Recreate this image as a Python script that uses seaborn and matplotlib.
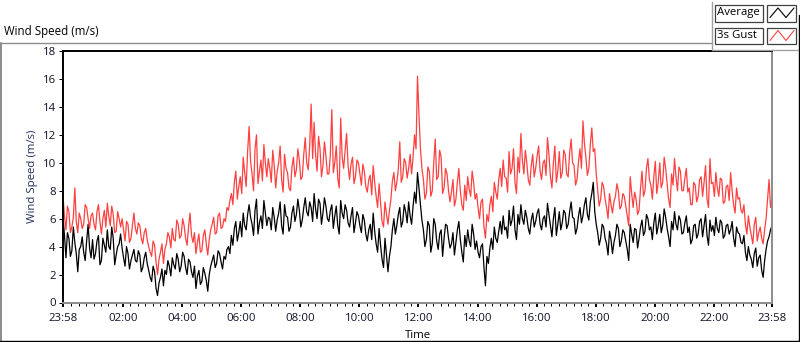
import numpy as np
import pandas as pd
import matplotlib
matplotlib.use("Agg")
import matplotlib.pyplot as plt
from matplotlib.lines import Line2D
from matplotlib.patches import Rectangle
import seaborn as sns

# ---------------- data (3-minute samples starting 23:58) -------------
average = [
    6.1, 4.8, 3.2, 5.0, 4.6, 3.3, 3.7, 5.4, 4.3, 3.5, 2.2, 3.8, 4.0, 4.7, 3.6, 3.0, 4.4, 5.6, 3.9, 3.2,
    4.5, 3.1, 3.5, 4.4, 4.8, 2.7, 3.0, 4.6, 4.1, 3.6, 5.2, 4.0, 3.8, 5.4, 4.6, 2.7, 3.4, 4.0, 4.2, 4.9,
    3.9, 3.2, 2.6, 4.0, 3.5, 2.4, 3.0, 3.4, 3.8, 3.0, 2.9, 3.7, 3.4, 2.2, 2.5, 3.2, 3.6, 2.8, 2.3, 1.8,
    1.5, 2.6, 2.2, 1.0, 0.5, 1.4, 1.8, 2.4, 1.2, 2.3, 2.0, 3.0, 2.6, 1.9, 3.2, 2.7, 2.4, 3.5, 3.1, 2.2,
    2.6, 3.6, 3.3, 2.5, 2.0, 3.1, 2.9, 2.2, 1.8, 2.6, 1.0, 1.9, 2.3, 1.3, 1.5, 2.5, 2.1, 1.6, 0.8, 2.0,
    2.6, 3.0, 3.4, 2.5, 2.8, 3.7, 3.5, 2.9, 2.4, 3.3, 3.1, 3.8, 4.0, 3.5, 4.8, 4.1, 5.3, 5.8, 4.4, 5.0,
    5.8, 4.7, 6.4, 5.5, 5.2, 6.3, 7.0, 6.1, 5.6, 4.8, 6.6, 7.4, 4.9, 5.7, 6.2, 5.3, 7.3, 6.4, 5.5, 6.1,
    6.0, 5.2, 6.8, 6.1, 5.1, 5.9, 6.4, 7.2, 5.5, 4.9, 7.0, 6.2, 6.1, 5.1, 5.4, 6.4, 6.9, 5.8, 6.3, 7.4,
    6.6, 5.4, 5.9, 6.8, 7.5, 6.5, 6.2, 7.2, 6.8, 5.8, 7.8, 6.7, 6.0, 7.4, 7.1, 5.6, 6.4, 7.5, 6.9, 6.0,
    5.8, 6.6, 7.0, 5.3, 6.2, 6.9, 5.5, 4.9, 7.3, 6.4, 6.0, 7.0, 6.6, 5.7, 5.4, 6.2, 6.8, 5.0, 5.7, 6.5,
    6.2, 5.5, 5.0, 6.3, 5.9, 4.9, 4.4, 5.2, 5.6, 4.5, 6.4, 5.1, 4.2, 3.6, 5.3, 4.1, 3.1, 2.5, 4.6, 3.4,
    2.2, 3.3, 4.0, 5.2, 6.0, 4.9, 5.5, 6.3, 6.8, 5.4, 5.8, 7.0, 6.5, 5.7, 7.2, 6.2, 5.6, 6.9, 7.9, 7.1,
    9.3, 8.2, 7.0, 5.9, 5.2, 4.0, 4.5, 5.8, 5.5, 3.6, 4.2, 6.0, 5.6, 4.4, 3.8, 4.9, 5.2, 3.3, 4.6, 5.6,
    5.5, 4.6, 3.9, 4.2, 5.0, 3.4, 4.3, 5.2, 5.8, 4.5, 3.6, 2.9, 4.8, 4.0, 5.2, 4.4, 4.0, 5.6, 4.9, 3.8,
    4.4, 3.6, 3.2, 4.0, 4.2, 2.5, 1.2, 3.3, 2.8, 3.9, 4.6, 3.8, 5.4, 4.6, 4.3, 5.1, 5.8, 4.9, 6.2, 5.2,
    5.4, 4.6, 6.6, 5.5, 5.9, 6.9, 5.2, 4.5, 6.3, 5.6, 7.0, 6.0, 5.6, 6.6, 6.1, 5.3, 4.9, 5.9, 6.4, 5.4,
    5.8, 6.4, 6.7, 5.6, 5.2, 6.0, 6.2, 5.4, 7.1, 6.3, 5.5, 4.7, 6.0, 6.8, 4.8, 5.6, 6.5, 5.2, 5.7, 6.6,
    6.4, 5.3, 5.6, 6.5, 7.2, 6.1, 6.0, 4.9, 5.3, 6.2, 6.8, 5.7, 6.2, 7.0, 7.5, 6.3, 5.9, 7.2, 7.8, 8.6,
    6.5, 5.6, 5.0, 4.1, 4.6, 5.6, 5.4, 4.6, 4.2, 3.4, 5.1, 4.5, 3.5, 4.3, 4.8, 5.6, 5.3, 4.0, 4.4, 5.2,
    5.0, 4.4, 3.8, 3.0, 5.6, 4.9, 4.3, 5.3, 5.2, 3.9, 4.6, 5.4, 5.9, 4.8, 5.1, 6.3, 6.0, 5.2, 5.4, 4.5,
    5.7, 6.4, 4.9, 5.5, 6.3, 5.0, 5.5, 6.7, 6.1, 5.3, 4.7, 4.0, 5.8, 5.2, 6.5, 5.6, 5.2, 6.2, 5.9, 4.9,
    5.0, 5.7, 6.2, 5.0, 5.4, 4.2, 4.5, 5.5, 5.6, 4.6, 4.9, 5.8, 6.0, 4.7, 5.5, 6.3, 4.8, 4.1, 5.9, 5.1,
    5.5, 4.8, 6.1, 5.3, 5.0, 5.9, 5.7, 4.6, 4.8, 5.5, 5.6, 4.9, 5.2, 5.8, 4.6, 4.0, 5.4, 5.0, 4.9, 4.3,
    4.2, 4.8, 3.6, 3.0, 4.0, 3.4, 3.1, 2.5, 3.5, 3.9, 2.6, 3.2, 3.4, 2.3, 1.8, 3.0, 3.8, 4.4, 4.7, 5.2, 5.5,
]
gust = [
    7.6, 6.2, 5.2, 6.9, 6.5, 5.0, 5.4, 6.1, 8.2, 5.8, 5.0, 6.4, 6.0, 5.3, 5.6, 7.0, 6.8, 6.0, 5.3, 6.2,
    6.4, 5.6, 5.2, 6.5, 7.0, 5.8, 4.9, 6.0, 6.6, 5.4, 7.1, 6.2, 5.5, 6.9, 6.3, 5.0, 5.1, 6.5, 6.0, 5.4,
    6.0, 5.2, 4.4, 5.8, 5.6, 4.3, 4.6, 5.5, 6.4, 5.3, 4.9, 5.7, 5.5, 4.6, 4.2, 5.0, 5.3, 4.5, 4.0, 3.6,
    3.3, 4.4, 4.1, 2.9, 2.0, 3.1, 3.6, 4.2, 2.8, 3.8, 4.2, 5.0, 4.7, 3.9, 5.3, 4.5, 4.4, 5.9, 5.6, 4.6,
    4.8, 6.0, 5.5, 4.6, 4.1, 5.4, 6.4, 4.8, 4.3, 5.0, 3.5, 4.3, 4.9, 3.6, 3.7, 4.8, 5.2, 4.2, 3.4, 4.5,
    5.2, 5.6, 6.1, 4.9, 5.0, 6.2, 6.4, 5.3, 5.4, 6.0, 5.8, 6.8, 6.6, 7.3, 7.8, 7.0, 8.6, 9.4, 7.4, 8.3,
    9.0, 7.8, 10.4, 9.3, 8.3, 10.8, 12.6, 10.1, 9.2, 8.0, 11.0, 12.0, 8.5, 9.4, 10.2, 8.7, 11.3, 10.0, 9.0, 10.3,
    9.6, 8.6, 10.9, 9.8, 8.2, 9.4, 10.0, 11.2, 8.8, 7.9, 10.6, 9.6, 9.3, 8.2, 8.0, 9.7, 10.4, 9.0, 9.5, 11.0,
    10.2, 8.8, 9.0, 10.6, 11.8, 10.0, 9.5, 11.2, 14.2, 10.3, 12.9, 10.6, 9.4, 11.9, 11.0, 9.0, 9.8, 11.5, 10.5, 9.2,
    9.2, 10.6, 13.8, 9.3, 10.0, 11.2, 8.9, 8.2, 13.2, 10.4, 9.6, 10.9, 12.1, 9.8, 8.8, 9.9, 10.4, 8.5, 9.0, 10.2,
    10.0, 9.2, 8.4, 9.9, 9.4, 8.3, 7.9, 8.8, 9.1, 7.7, 9.8, 8.6, 7.6, 6.8, 8.5, 7.1, 5.8, 5.4, 7.2, 6.3,
    5.6, 6.6, 7.4, 8.7, 9.3, 8.0, 8.6, 9.5, 11.5, 8.6, 9.0, 10.3, 10.0, 8.9, 9.6, 10.6, 9.2, 10.4, 12.0, 11.0,
    16.2, 13.4, 11.0, 9.6, 8.8, 7.4, 7.8, 9.7, 9.4, 7.6, 8.0, 10.0, 11.7, 8.8, 9.0, 10.9, 10.4, 7.8, 8.2, 9.6,
    9.2, 8.0, 7.2, 7.9, 8.8, 6.9, 7.4, 8.6, 9.6, 8.0, 7.0, 6.6, 8.4, 7.3, 9.0, 8.1, 7.6, 9.4, 8.6, 7.4,
    7.8, 6.8, 6.0, 7.2, 7.4, 5.4, 4.6, 6.3, 5.8, 7.0, 7.6, 6.5, 8.6, 7.9, 7.4, 8.8, 9.6, 8.3, 10.2, 9.0,
    8.9, 7.9, 10.8, 9.2, 9.6, 11.0, 8.6, 7.8, 10.4, 9.3, 12.1, 10.2, 9.2, 10.9, 10.0, 8.8, 8.4, 9.8, 10.6, 9.0,
    9.6, 10.5, 11.2, 9.4, 8.8, 10.0, 10.2, 9.1, 11.8, 10.6, 9.0, 8.2, 10.0, 11.2, 8.6, 9.4, 10.8, 8.9, 9.3, 10.9,
    10.6, 9.2, 9.0, 10.7, 11.7, 10.0, 9.8, 8.4, 8.8, 10.1, 11.0, 9.6, 13.0, 11.4, 10.4, 9.1, 9.6, 11.3, 12.5, 10.8,
    11.0, 9.2, 8.0, 6.9, 7.4, 8.6, 8.3, 7.4, 6.8, 6.0, 7.8, 7.0, 6.4, 7.2, 7.6, 8.5, 8.0, 6.7, 6.9, 7.8,
    7.6, 6.9, 6.2, 5.5, 9.0, 7.8, 6.8, 7.9, 7.4, 6.3, 6.6, 8.2, 9.4, 7.6, 8.0, 9.6, 10.3, 8.8, 8.4, 7.4,
    9.0, 10.1, 7.8, 8.6, 10.0, 8.2, 8.6, 10.4, 9.6, 8.5, 7.4, 6.8, 9.2, 8.4, 10.3, 9.0, 8.0, 9.7, 9.4, 8.0,
    8.0, 8.9, 9.6, 7.9, 8.2, 7.0, 7.0, 8.6, 8.4, 7.2, 7.6, 8.8, 9.0, 7.6, 8.6, 9.8, 7.4, 6.8, 10.3, 8.5,
    8.6, 7.6, 9.3, 8.2, 7.6, 8.9, 8.8, 7.1, 7.2, 8.3, 8.4, 7.3, 9.3, 8.0, 7.0, 6.4, 8.2, 7.4, 7.5, 6.6,
    6.4, 7.0, 5.6, 4.9, 6.2, 5.4, 4.8, 4.2, 5.6, 6.1, 4.4, 5.0, 5.4, 4.6, 4.2, 5.2, 6.0, 7.4, 8.8, 6.8, 7.5,
]
start_minute = -2          # 23:58 of the previous day, minutes relative to 00:00
step_minutes = 3
tick_labels = ["23:58", "02:00", "04:00", "06:00", "08:00", "10:00", "12:00",
               "14:00", "16:00", "18:00", "20:00", "22:00", "23:58"]
series_names = ["Average", "3s Gust"]
y_ticks = [0, 2, 4, 6, 8, 10, 12, 14, 16, 18]

hours = (start_minute + step_minutes * np.arange(len(average))) / 60.0
df = pd.DataFrame({"hours": np.concatenate([hours, hours]),
                   "speed": average + gust,
                   "series": [series_names[0]] * len(average) + [series_names[1]] * len(gust)})

# ---------------- style -------------
sns.set_style("white")
plt.rcParams["font.family"] = ["Open Sans", "DejaVu Sans"]
plt.rcParams["font.size"] = 8.2

W, H = 800, 342
fig = plt.figure(figsize=(8.0, 3.42), dpi=100)
ax = fig.add_axes([63 / W, 1 - 302.5 / H, (772 - 63) / W, (302.5 - 51) / H])

RED = "#FF4040"
sns.lineplot(data=df, x="hours", y="speed", hue="series",
             palette={series_names[0]: "black", series_names[1]: RED},
             linewidth=0.9, estimator=None, legend=False, ax=ax)

x_start = start_minute / 60.0
x_end = 24 + start_minute / 60.0
ax.set_xlim(x_start, x_end)
ax.set_ylim(0, 18)
ax.set_yticks(y_ticks)
ax.set_yticklabels([str(v) for v in y_ticks], color="#101028")
major_pos = [x_start] + list(range(2, 24, 2)) + [x_end]
ax.set_xticks(major_pos)
ax.set_xticklabels(tick_labels, color="#101028")
minor = [q / 4 for q in range(1, 96) if q % 8 != 0]
ax.set_xticks(minor, minor=True)

ax.tick_params(axis="x", which="major", direction="out", length=3.2, width=1.4,
               color="black", pad=4.5, bottom=True)
ax.tick_params(axis="x", which="minor", direction="out", length=2.2, width=0.72,
               color="black", bottom=True)
ax.tick_params(axis="y", which="major", direction="out", length=3.2, width=0.72,
               color="black", pad=2, left=True)

for side in ["top", "left"]:
    ax.spines[side].set_color("black")
    ax.spines[side].set_linewidth(1.4)
for side in ["right", "bottom"]:
    ax.spines[side].set_color("#8C8C8C")
    ax.spines[side].set_linewidth(1.4)

ax.set_xlabel("Time", color="black", labelpad=4)
ax.set_ylabel("Wind Speed (m/s)", color="#1F2E5C", labelpad=3)

# ---------------- panel frame, title and legend (figure pixel coords) -------------
def px(x, y):
    return x / W, 1 - y / H

def fline(x0, y0, x1, y1, color, lw=1.0):
    a, b = px(x0, y0)
    c, d = px(x1, y1)
    fig.add_artist(Line2D([a, c], [b, d], color=color, linewidth=lw, transform=fig.transFigure))

fline(0, 42.5, 712, 42.5, "#8C8C8C", 1.0)
fline(0.8, 42.5, 0.8, 341, "#8C8C8C", 1.4)
fline(0, 340.5, 799, 340.5, "black", 1.0)
fline(798.6, 15, 798.6, 341, "black", 1.0)
fline(712, 2, 712, 49.5, "#A0A0A0", 1.0)
fline(712, 49.5, 798, 49.5, "#A0A0A0", 1.0)

tx, ty = px(4, 32)
fig.text(tx, ty, "Wind Speed (m/s)", ha="left", va="center", fontsize=8.3, color="black")

def frect(x0, y0, x1, y1):
    a, b = px(x0, y1)
    fig.add_artist(Rectangle((a, b), (x1 - x0) / W, (y1 - y0) / H, transform=fig.transFigure,
                             facecolor="white", edgecolor="#404040", linewidth=0.9))

frect(715, 4.5, 763, 21.5)
frect(767, 4.5, 796, 21.5)
frect(715, 27.5, 763, 43.5)
frect(767, 27.5, 796, 43.5)
a, b = px(717, 13)
fig.text(a, b, series_names[0], ha="left", va="center", fontsize=8.2, color="black")
a, b = px(717, 35.5)
fig.text(a, b, series_names[1], ha="left", va="center", fontsize=8.2, color="black")

def glyph(y_low, y_high, color):
    xs = [770, 778, 786, 794]
    ys = [y_low, y_high, y_low, y_high]
    pts = [px(x, y) for x, y in zip(xs, ys)]
    fig.add_artist(Line2D([p[0] for p in pts], [p[1] for p in pts], color=color,
                          linewidth=0.8, transform=fig.transFigure))

glyph(17.5, 8, "black")
glyph(40.5, 30.5, RED)

fig.savefig("out.png", dpi=100, facecolor="white")
